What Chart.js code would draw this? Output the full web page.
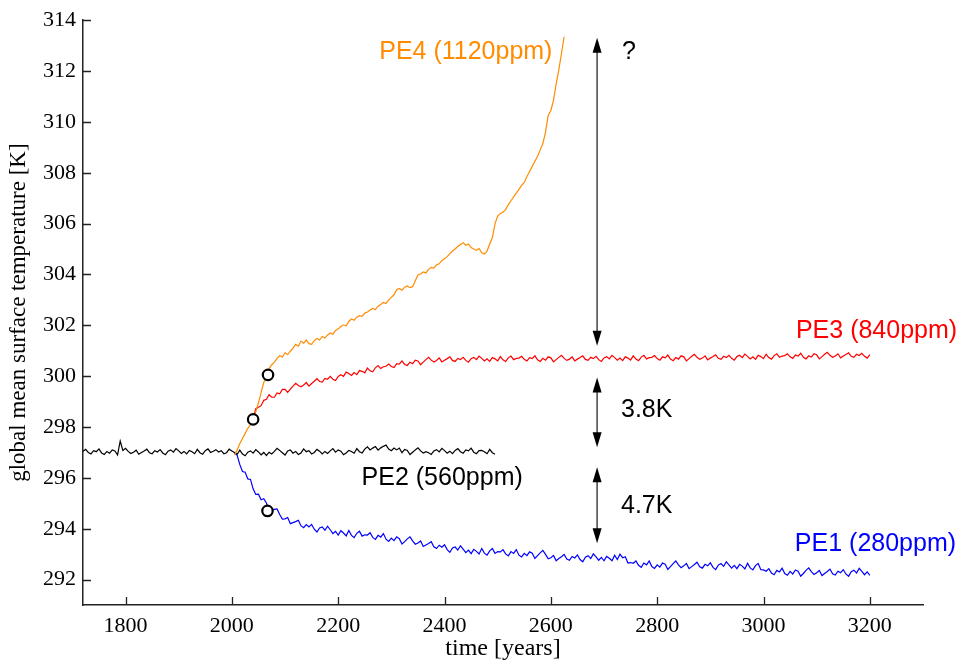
<!DOCTYPE html>
<html>
<head>
<meta charset="utf-8">
<script src="https://cdn.jsdelivr.net/npm/chart.js@4/dist/chart.umd.min.js"></script>
<style>
  html, body { margin: 0; padding: 0; background: #fff; }
  #wrap { width: 959px; height: 664px; }
</style>
</head>
<body>
<div id="wrap"><canvas id="c" width="959" height="664"></canvas></div>
<script>
// Global mean surface temperature of the four runs, 5-year samples.
const STEP = 5;

// PE2 (560ppm), from year 1720
const PE2_START = 1720;
const pe2 = [
  297.05, 297.12, 297.00, 296.94, 297.07, 297.03, 297.14, 296.98, 296.92, 297.04,
  296.97, 297.10, 297.06, 296.90, 297.45, 297.08, 297.16, 297.04, 296.96, 297.01,
  297.09, 296.93, 297.00, 297.06, 297.13, 296.99, 296.95, 297.07, 297.02, 297.11,
  296.98, 296.91, 297.05, 297.10, 297.01, 297.15, 297.06, 296.96, 297.04, 296.94,
  297.08, 297.03, 296.95, 297.12, 296.99, 296.93, 297.07, 297.14, 297.00, 297.05,
  297.11, 297.02, 297.07, 296.95, 296.99, 297.13, 297.06, 297.00, 296.93, 297.09,
  296.94, 296.87, 297.01, 297.06, 296.97, 297.11, 297.02, 296.90, 297.00, 296.88,
  297.01, 296.94, 297.04, 297.16, 297.08, 296.99, 296.90, 297.06, 297.10, 296.97,
  297.04, 296.92, 296.98, 297.14, 297.03, 297.07, 296.94, 297.00, 297.12, 297.05,
  296.94, 297.04, 296.96, 297.06, 297.15, 297.01, 297.10, 297.05, 296.91, 296.98,
  297.08, 297.04, 296.97, 297.15, 297.03, 296.98, 297.13, 297.22, 297.10, 297.17,
  297.23, 297.09, 297.18, 297.24, 297.29, 297.13, 297.07, 297.17, 297.10, 297.17,
  296.99, 297.12, 297.08, 296.92, 297.01, 297.10, 297.18, 297.06, 296.98, 297.03,
  296.99, 296.92, 297.06, 297.11, 297.02, 297.16, 297.07, 296.97, 297.05, 296.95,
  297.08, 297.15, 297.03, 296.97, 297.10, 297.06, 297.17, 297.01, 296.95, 297.07,
  297.08, 297.03, 296.95, 297.12, 296.99, 296.93
];

// PE1 (280ppm), from year 2005
const PE1_START = 2005;
const pe1 = [
  296.99, 296.89, 296.52, 296.25, 296.22, 295.96, 295.94, 295.57, 295.35, 295.36,
  295.14, 295.18, 295.01, 294.71, 294.73, 294.76, 294.78, 294.56, 294.38, 294.39,
  294.44, 294.20, 294.24, 294.28, 294.33, 294.12, 294.04, 294.16, 294.07, 294.17,
  293.98, 293.87, 294.03, 294.07, 293.94, 294.10, 293.96, 293.81, 293.90, 293.75,
  293.92, 293.83, 293.72, 293.93, 293.74, 293.65, 293.82, 293.90, 293.71, 293.76,
  293.75, 293.84, 293.66, 293.58, 293.74, 293.67, 293.81, 293.59, 293.50, 293.63,
  293.53, 293.68, 293.61, 293.40, 293.49, 293.60, 293.68, 293.52, 293.39, 293.44,
  293.52, 293.30, 293.36, 293.42, 293.49, 293.29, 293.22, 293.35, 293.27, 293.37,
  293.18, 293.07, 293.24, 293.28, 293.16, 293.33, 293.20, 293.06, 293.16, 293.02,
  293.19, 293.11, 293.01, 293.22, 293.04, 292.96, 293.13, 293.22, 293.03, 293.10,
  293.09, 293.18, 293.01, 292.93, 293.10, 293.03, 293.18, 292.96, 292.89, 293.03,
  292.94, 293.09, 293.04, 292.83, 292.94, 293.05, 293.15, 292.99, 292.82, 292.86,
  292.95, 292.74, 292.83, 292.90, 292.99, 292.81, 292.76, 292.91, 292.85, 292.97,
  292.79, 292.70, 292.88, 292.94, 292.83, 293.01, 292.89, 292.76, 292.87, 292.74,
  292.91, 292.84, 292.74, 292.96, 292.79, 293.00, 292.86, 292.90, 292.65, 292.67,
  292.64, 292.73, 292.56, 292.48, 292.65, 292.58, 292.73, 292.51, 292.44, 292.58,
  292.49, 292.65, 292.60, 292.40, 292.51, 292.63, 292.73, 292.58, 292.47, 292.54,
  292.63, 292.43, 292.51, 292.59, 292.68, 292.50, 292.45, 292.60, 292.54, 292.66,
  292.48, 292.39, 292.57, 292.63, 292.52, 292.70, 292.58, 292.45, 292.56, 292.43,
  292.60, 292.53, 292.42, 292.64, 292.46, 292.38, 292.55, 292.63, 292.39, 292.38,
  292.33, 292.43, 292.26, 292.19, 292.36, 292.30, 292.45, 292.24, 292.17, 292.32,
  292.22, 292.38, 292.33, 292.13, 292.24, 292.36, 292.46, 292.31, 292.20, 292.27,
  292.36, 292.16, 292.24, 292.32, 292.41, 292.23, 292.18, 292.33, 292.27, 292.39,
  292.22, 292.13, 292.31, 292.37, 292.26, 292.44, 292.32, 292.19, 292.30, 292.17
];

// PE3 (840ppm), from year 2040
const PE3_START = 2040;
const pe3 = [
  298.33, 298.72, 298.78, 298.84, 299.05, 299.09, 299.27, 299.17, 299.17, 299.34,
  299.31, 299.48, 299.48, 299.36, 299.49, 299.61, 299.72, 299.63, 299.58, 299.65,
  299.75, 299.61, 299.71, 299.80, 299.90, 299.79, 299.77, 299.91, 299.88, 299.99,
  299.88, 299.83, 299.99, 300.06, 299.99, 300.16, 300.10, 300.03, 300.14, 300.06,
  300.22, 300.19, 300.13, 300.32, 300.21, 300.17, 300.33, 300.42, 300.30, 300.37,
  300.39, 300.48, 300.38, 300.34, 300.49, 300.47, 300.60, 300.46, 300.42, 300.55,
  300.49, 300.63, 300.60, 300.45, 300.55, 300.65, 300.74, 300.63, 300.56, 300.62,
  300.72, 300.56, 300.63, 300.69, 300.76, 300.62, 300.58, 300.70, 300.65, 300.74,
  300.62, 300.55, 300.69, 300.74, 300.65, 300.79, 300.70, 300.60, 300.68, 300.58,
  300.73, 300.68, 300.60, 300.77, 300.64, 300.58, 300.72, 300.79, 300.65, 300.70,
  300.71, 300.78, 300.66, 300.60, 300.73, 300.69, 300.80, 300.64, 300.58, 300.70,
  300.63, 300.76, 300.72, 300.56, 300.65, 300.74, 300.82, 300.70, 300.62, 300.67,
  300.76, 300.60, 300.67, 300.73, 300.80, 300.66, 300.62, 300.74, 300.69, 300.78,
  300.65, 300.58, 300.72, 300.77, 300.68, 300.82, 300.73, 300.63, 300.71, 300.61,
  300.76, 300.71, 300.63, 300.80, 300.67, 300.61, 300.75, 300.82, 300.68, 300.73,
  300.74, 300.81, 300.69, 300.63, 300.76, 300.72, 300.83, 300.67, 300.61, 300.73,
  300.67, 300.80, 300.76, 300.60, 300.69, 300.78, 300.86, 300.74, 300.66, 300.71,
  300.80, 300.64, 300.71, 300.77, 300.84, 300.70, 300.66, 300.78, 300.73, 300.82,
  300.70, 300.63, 300.77, 300.82, 300.73, 300.87, 300.78, 300.68, 300.76, 300.66,
  300.82, 300.77, 300.69, 300.86, 300.73, 300.67, 300.81, 300.88, 300.74, 300.79,
  300.81, 300.88, 300.76, 300.70, 300.83, 300.79, 300.90, 300.74, 300.68, 300.80,
  300.75, 300.88, 300.84, 300.68, 300.77, 300.86, 300.94, 300.82, 300.74, 300.79,
  300.88, 300.72, 300.79, 300.85, 300.92, 300.78, 300.74, 300.86, 300.81, 300.90,
  300.78, 300.71, 300.85
];

// PE4 (1120ppm), from year 2005
const PE4_START = 2005;
const pe4 = [
  296.90, 297.10, 297.35, 297.55, 297.75, 297.95, 298.10, 298.30, 298.60, 298.95,
  299.35, 299.75, 300.00, 300.30, 300.45, 300.55, 300.70, 300.80, 300.75, 300.92,
  300.85, 300.98, 301.10, 301.25, 301.18, 301.38, 301.30, 301.42, 301.28, 301.25,
  301.40, 301.48, 301.42, 301.56, 301.50, 301.62, 301.70, 301.65, 301.80, 301.86,
  301.95, 302.02, 301.98, 302.15, 302.25, 302.20, 302.32, 302.38, 302.35, 302.48,
  302.52, 302.60, 302.66, 302.62, 302.75, 302.82, 302.90, 302.86, 303.00, 303.10,
  303.20, 303.40, 303.45, 303.38, 303.50, 303.55, 303.48, 303.52, 303.75, 303.98,
  304.02, 304.10, 304.06, 304.20, 304.28, 304.25, 304.38, 304.42, 304.55, 304.62,
  304.70, 304.82, 304.92, 305.00, 305.10, 305.18, 305.25, 305.15, 305.20, 305.06,
  305.00, 304.95, 305.02, 304.85, 304.80, 304.92, 305.20, 305.45, 306.00, 306.30,
  306.40, 306.45, 306.55, 306.75, 306.90, 307.05, 307.20, 307.35, 307.50, 307.62,
  307.85, 308.05, 308.25, 308.45, 308.65, 308.90, 309.15, 309.60, 310.25, 310.45,
  310.85, 311.50, 312.05, 312.70, 313.35
];

// open-circle markers on the curves
const markerYears = [2040, 2068, 2067];
const markerTemps = [298.3, 300.05, 294.7];

// axis ticks
const xTicks = [1800, 2000, 2200, 2400, 2600, 2800, 3000, 3200];
const yTicks = [292, 294, 296, 298, 300, 302, 304, 306, 308, 310, 312, 314];

const seriesNames = ['PE1 (280ppm)', 'PE2 (560ppm)', 'PE3 (840ppm)', 'PE4 (1120ppm)'];
const gapLabels = ['?', '3.8K', '4.7K'];

function toPoints(start, values) {
  return values.map((v, i) => ({ x: start + i * STEP, y: v }));
}

const COLORS = { pe1: '#0000ff', pe2: '#000000', pe3: '#ff0000', pe4: '#ff8c00' };
const SERIF = '"Liberation Serif", "Times New Roman", serif';

// text placed in data coordinates
const notes = [
  { text: seriesNames[3], x: 2603, y: 312.74, color: COLORS.pe4, align: 'right' },
  { text: seriesNames[2], x: 3061, y: 301.79, color: COLORS.pe3, align: 'left' },
  { text: seriesNames[1], x: 2244, y: 295.98, color: COLORS.pe2, align: 'left' },
  { text: seriesNames[0], x: 3059, y: 293.40, color: COLORS.pe1, align: 'left' },
  { text: gapLabels[0], x: 2734, y: 312.74, color: '#000', align: 'left' },
  { text: gapLabels[1], x: 2732, y: 298.67, color: '#000', align: 'left' },
  { text: gapLabels[2], x: 2732, y: 294.89, color: '#000', align: 'left' }
];

// double-headed vertical arrows: year, top, bottom
const arrows = [
  { x: 2687, top: 313.31, bottom: 301.2 },
  { x: 2687, top: 299.95, bottom: 297.2 },
  { x: 2687, top: 296.42, bottom: 293.43 }
];

const annotations = {
  id: 'annotations',
  afterDatasetsDraw(chart) {
    const { ctx, chartArea, scales: { x, y } } = chart;
    ctx.save();
    // inward tick marks
    ctx.strokeStyle = '#222';
    ctx.lineWidth = 1.3;
    ctx.beginPath();
    yTicks.forEach(v => {
      const py = Math.round(y.getPixelForValue(v)) + 0.5;
      ctx.moveTo(chartArea.left, py);
      ctx.lineTo(chartArea.left + 8, py);
    });
    xTicks.forEach(v => {
      const px = Math.round(x.getPixelForValue(v)) + 0.5;
      ctx.moveTo(px, chartArea.bottom);
      ctx.lineTo(px, chartArea.bottom - 8);
    });
    ctx.stroke();

    // arrows
    const headLen = 15, headHalf = 4.5;
    arrows.forEach(a => {
      const px = x.getPixelForValue(a.x);
      const t = y.getPixelForValue(a.top);
      const b = y.getPixelForValue(a.bottom);
      ctx.strokeStyle = '#444';
      ctx.lineWidth = 1.5;
      ctx.beginPath();
      ctx.moveTo(px, t + headLen - 1);
      ctx.lineTo(px, b - headLen + 1);
      ctx.stroke();
      ctx.fillStyle = '#000';
      ctx.beginPath();
      ctx.moveTo(px, t);
      ctx.lineTo(px - headHalf, t + headLen);
      ctx.lineTo(px + headHalf, t + headLen);
      ctx.closePath();
      ctx.fill();
      ctx.beginPath();
      ctx.moveTo(px, b);
      ctx.lineTo(px - headHalf, b - headLen);
      ctx.lineTo(px + headHalf, b - headLen);
      ctx.closePath();
      ctx.fill();
    });

    // labels
    ctx.font = '25px "Liberation Sans", Arial, sans-serif';
    ctx.textBaseline = 'middle';
    notes.forEach(n => {
      ctx.fillStyle = n.color;
      ctx.textAlign = n.align;
      ctx.fillText(n.text, x.getPixelForValue(n.x), y.getPixelForValue(n.y));
    });
    ctx.restore();
  }
};

const lineDefaults = { showLine: true, pointRadius: 0, borderWidth: 1.2, tension: 0, fill: false };

new Chart(document.getElementById('c'), {
  type: 'scatter',
  data: {
    datasets: [
      {
        label: 'markers',
        data: markerYears.map((yr, i) => ({ x: yr, y: markerTemps[i] })),
        pointRadius: 5.2, pointBorderWidth: 2.2, pointBorderColor: '#000',
        pointBackgroundColor: '#fff', showLine: false, order: 0
      },
      { ...lineDefaults, label: seriesNames[3], data: toPoints(PE4_START, pe4), borderColor: COLORS.pe4, order: 1 },
      { ...lineDefaults, label: seriesNames[1], data: toPoints(PE2_START, pe2), borderColor: COLORS.pe2, order: 2 },
      { ...lineDefaults, label: seriesNames[2], data: toPoints(PE3_START, pe3), borderColor: COLORS.pe3, order: 3 },
      { ...lineDefaults, label: seriesNames[0], data: toPoints(PE1_START, pe1), borderColor: COLORS.pe1, order: 4 }
    ]
  },
  options: {
    responsive: false,
    animation: false,
    events: [],
    layout: { padding: { top: 16, right: 36, left: 0, bottom: 0 } },
    plugins: { legend: { display: false }, tooltip: { enabled: false } },
    scales: {
      x: {
        type: 'linear', min: 1720, max: 3300,
        afterBuildTicks: s => { s.ticks = xTicks.map(v => ({ value: v })); },
        afterFit: s => { s.height = 59; },
        grid: { display: false, drawTicks: false },
        border: { display: true, color: '#222', width: 1.5 },
        ticks: { color: '#000', padding: 8, maxRotation: 0, autoSkip: false,
                 callback: v => String(v),
                 font: { family: SERIF, size: 22 } },
        title: { display: true, text: 'time [years]', color: '#000', padding: { top: 0, bottom: 1 },
                 font: { family: SERIF, size: 24 } }
      },
      y: {
        type: 'linear', min: 291, max: 314,
        afterBuildTicks: s => { s.ticks = yTicks.map(v => ({ value: v })); },
        afterFit: s => { s.width = 83; },
        grid: { display: false, drawTicks: false },
        border: { display: true, color: '#222', width: 1.5 },
        ticks: { color: '#000', padding: 7, autoSkip: false,
                 callback: v => String(v),
                 font: { family: SERIF, size: 22 } },
        title: { display: true, text: 'global mean surface temperature [K]', color: '#000', padding: { top: 5, bottom: 0 },
                 font: { family: SERIF, size: 23 } }
      }
    }
  },
  plugins: [annotations]
});
</script>
</body>
</html>
